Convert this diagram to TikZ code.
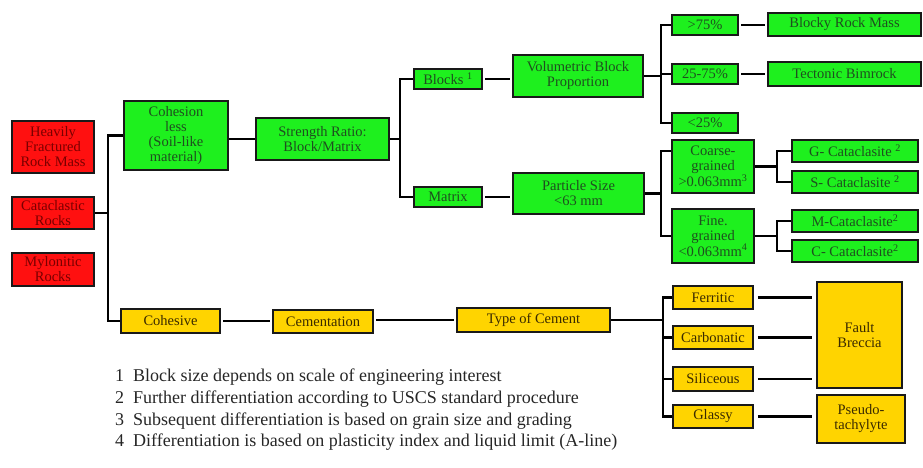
\documentclass[tikz,border=0pt]{standalone}
\usepackage{fontspec}
\setmainfont{Liberation Serif}
\definecolor{rfill}{HTML}{FF1010}
\definecolor{rtext}{HTML}{7A0000}
\definecolor{gfill}{HTML}{1EF01E}
\definecolor{gtext}{HTML}{1F4F1F}
\definecolor{yfill}{HTML}{FFD400}
\definecolor{ytext}{HTML}{3A2A00}
\tikzset{
  bx/.style={draw=black!90, line width=1.6pt, inner sep=0pt, align=center,
    font=\fontsize{14.5}{15}\selectfont},
  rbox/.style={bx, fill=rfill, text=rtext},
  gbox/.style={bx, fill=gfill, text=gtext},
  ybox/.style={bx, fill=yfill, text=ytext},
  sz/.style n args={2}{minimum width=#1pt, minimum height=#2pt},
  con/.style={line width=2.6pt, black},
  gap/.style={con, shorten <=2.5pt, shorten >=2.5pt},
  note/.style={anchor=west, inner sep=0pt, font=\fontsize{18}{20}\selectfont, text=black!85}
}
\begin{document}
\begin{tikzpicture}[x=1pt,y=-1pt]
\useasboundingbox (0,0) rectangle (923,468);
% left column
\node[rbox, sz={82}{52}] (hv) at (53,147) {Heavily\\Fractured\\Rock Mass};
\node[rbox, sz={82}{32}] (cat) at (53,213) {Cataclastic\\Rocks};
\node[rbox, sz={82}{33}] (myl) at (53,269.5) {Mylonitic\\Rocks};
% green branch
\node[gbox, sz={104}{69}] (cl) at (176,135.5) {Cohesion\\less\\(Soil-like\\material)};
\node[gbox, sz={133}{42}] (sr) at (322.5,139) {Strength Ratio:\\Block/Matrix};
\node[gbox, sz={68}{20}] (bl) at (448,79) {Blocks \textsuperscript{1}};
\node[gbox, sz={68}{20}] (mx) at (448,197) {Matrix};
\node[gbox, sz={130}{42}] (vb) at (578,76) {Volumetric Block\\Proportion};
\node[gbox, sz={131}{41}] (ps) at (578.5,193.5) {Particle Size\\<63 mm};
\node[gbox, sz={66}{20}] (pa) at (705,25) {>75\%};
\node[gbox, sz={66}{20}] (pb) at (705,74) {25-75\%};
\node[gbox, sz={66}{20}] (pc) at (705,123) {<25\%};
\node[gbox, sz={153}{23}] (brm) at (844.5,24.5) {Blocky Rock Mass};
\node[gbox, sz={153}{24}] (tb) at (844.5,74) {Tectonic Bimrock};
\node[gbox, sz={82}{53}] (co) at (713,166.5) {Coarse-\\grained\\>0.063mm\textsuperscript{3}};
\node[gbox, sz={82}{54}] (fi) at (713,236) {Fine.\\grained\\<0.063mm\textsuperscript{4}};
\node[gbox, sz={126}{22}] (gc) at (855,151) {G- Cataclasite \textsuperscript{2}};
\node[gbox, sz={126}{22}] (sc) at (855,182) {S- Cataclasite \textsuperscript{2}};
\node[gbox, sz={126}{22}] (mc) at (855,221) {M-Cataclasite\textsuperscript{2}};
\node[gbox, sz={126}{22}] (cc) at (855,251) {C- Cataclasite\textsuperscript{2}};
% yellow branch
\node[ybox, sz={99}{24}] (ch) at (170.5,321) {Cohesive};
\node[ybox, sz={100}{23}] (cm) at (323,321.5) {Cementation};
\node[ybox, sz={153}{24}] (tc) at (533.5,320) {Type of Cement};
\node[ybox, sz={80}{23}] (fe) at (713,297.5) {Ferritic};
\node[ybox, sz={80}{23}] (ca) at (713,337.5) {Carbonatic};
\node[ybox, sz={80}{24}] (si) at (713,379) {Siliceous};
\node[ybox, sz={80}{23}] (gl) at (713,416.5) {Glassy};
\node[ybox, sz={85}{106}] (fb) at (859.5,335) {Fault\\Breccia};
\node[ybox, sz={88}{48}] (pt) at (861,419) {Pseudo-\\tachylyte};
% trunk coordinates
\coordinate (v0) at (108,0);
\coordinate (v1) at (400,0);
\coordinate (v2) at (661,0);
\coordinate (v3) at (777,0);
\coordinate (v4) at (663,0);
% connectors
\draw[con] (cl.west) -| (v0 |- ch.west) -- (ch.west);
\draw[con] (cat.east) -- (cat.east -| v0);
\draw[con] (cl.east |- sr.west) -- (sr.west);
\draw[con] (sr.east) -- (sr.east -| v1);
\draw[con] (bl.west) -| (v1 |- mx.west) -- (mx.west);
\draw[gap] (bl.east) -- (bl.east -| vb.west);
\draw[gap] (mx.east) -- (mx.east -| ps.west);
\draw[con] (vb.east) -- (vb.east -| v2);
\draw[con] (pa.west) -| (v2 |- pc.west) -- (pc.west);
\draw[con] (pb.west) -- (pb.west -| v2);
\draw[gap] (pa.east) -- (pa.east -| brm.west);
\draw[gap] (pb.east) -- (pb.east -| tb.west);
\draw[con] (ps.east) -- (ps.east -| v2);
\draw[con] ([yshift=15.5pt]co.west) -| (v2 |- fi.west) -- (fi.west);
\draw[con] (co.east) -- (co.east -| v3);
\draw[con] (gc.west) -| (v3 |- sc.west) -- (sc.west);
\draw[con] (fi.east) -- (fi.east -| v3);
\draw[con] (mc.west) -| (v3 |- cc.west) -- (cc.west);
\draw[gap] (ch.east) -- (ch.east -| cm.west);
\draw[gap] (cm.east |- tc.west) -- (tc.west);
\draw[con] (tc.east) -- (tc.east -| v4);
\draw[con] (fe.west) -| (v4 |- gl.west) -- (gl.west);
\draw[con] (ca.west) -- (ca.west -| v4);
\draw[con] (si.west) -- (si.west -| v4);
\draw[con, shorten <=4pt, shorten >=4pt] (fe.east) -- (fe.east -| fb.west);
\draw[con, shorten <=4pt, shorten >=4pt] (ca.east) -- (ca.east -| fb.west);
\draw[con, shorten <=4pt, shorten >=4pt] (si.east) -- (si.east -| fb.west);
\draw[con, shorten <=4pt, shorten >=4pt] (gl.east) -- (gl.east -| pt.west);
% footnotes
\node[note] (n1) at (115,377) {1\ \ Block size depends on scale of engineering interest};
\node[note] (n2) at (115,399) {2\ \ Further differentiation according to USCS standard procedure};
\node[note] (n3) at (115,421) {3\ \ Subsequent differentiation is based on grain size and grading};
\node[note] (n4) at (115,442) {4\ \ Differentiation is based on plasticity index and liquid limit (A-line)};
\end{tikzpicture}
\end{document}
